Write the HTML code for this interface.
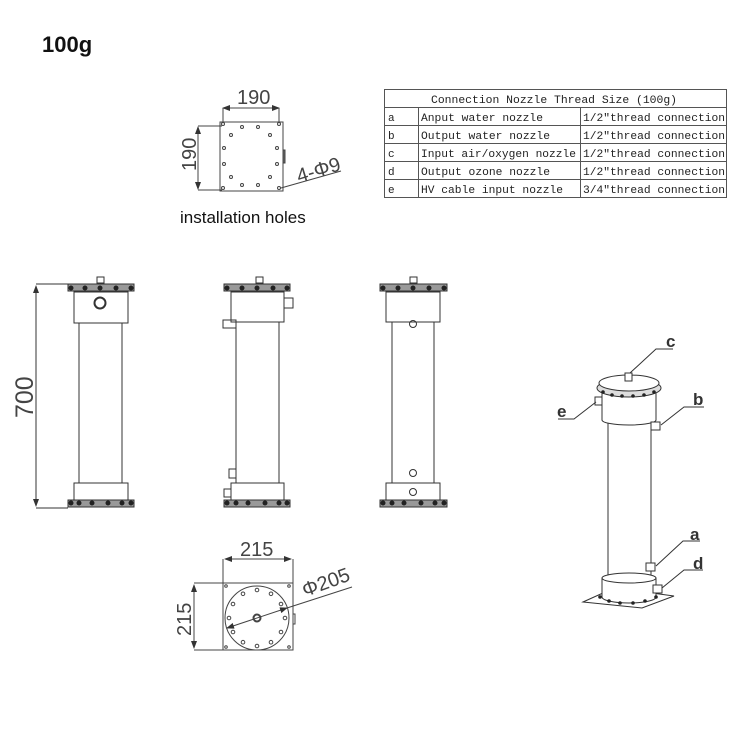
<!DOCTYPE html>
<html><head><meta charset="utf-8"><style>
html,body{margin:0;padding:0;background:#fff;width:750px;height:750px;overflow:hidden}
svg{display:block}
.t{font-family:"Liberation Mono",monospace;font-size:11px;fill:#222}
.d{font-family:"Liberation Sans",sans-serif;font-size:20px;fill:#444;font-weight:300}
</style></head><body>
<svg width="750" height="750" viewBox="0 0 750 750" xmlns="http://www.w3.org/2000/svg">
<defs>
<marker id="ar" markerWidth="8" markerHeight="6" refX="7" refY="3" orient="auto-start-reverse"><path d="M0,0 L8,3 L0,6z" fill="#333"/></marker>
</defs>
<text x="42" y="52" font-family="Liberation Sans,sans-serif" font-size="22" font-weight="bold" fill="#111">100g</text>

<!-- installation holes -->
<g stroke="#444" fill="none" stroke-width="1">
<rect x="220" y="122" width="63" height="69"/>
<rect x="283" y="150" width="2" height="13" fill="#666"/>
<line x1="223" y1="108" x2="279" y2="108" marker-start="url(#ar)" marker-end="url(#ar)"/>
<line x1="223" y1="108" x2="223" y2="122"/><line x1="279" y1="108" x2="279" y2="122"/>
<line x1="198" y1="127" x2="198" y2="189" marker-start="url(#ar)" marker-end="url(#ar)"/>
<line x1="198" y1="126" x2="222" y2="126"/><line x1="198" y1="190" x2="222" y2="190"/>
<line x1="281" y1="188" x2="341" y2="171"/>
<circle cx="223" cy="124" r="1.5"/><circle cx="279" cy="124" r="1.5"/><circle cx="223" cy="188" r="1.5"/><circle cx="279" cy="188" r="1.5"/>
<circle cx="242" cy="127" r="1.5"/><circle cx="258" cy="127" r="1.5"/><circle cx="242" cy="185" r="1.5"/><circle cx="258" cy="185" r="1.5"/>
<circle cx="231" cy="135" r="1.5"/><circle cx="270" cy="135" r="1.5"/><circle cx="231" cy="177" r="1.5"/><circle cx="270" cy="177" r="1.5"/>
<circle cx="224" cy="148" r="1.5"/><circle cx="277" cy="148" r="1.5"/><circle cx="224" cy="164" r="1.5"/><circle cx="277" cy="164" r="1.5"/>
</g>
<text class="d" x="237" y="104">190</text>
<text class="d" transform="translate(196,171) rotate(-90)">190</text>
<text class="d" transform="translate(299,183) rotate(-17)">4-Φ9</text>
<text x="180" y="223" font-family="Liberation Sans,sans-serif" font-size="17" fill="#111">installation holes</text>

<!-- table -->
<g stroke="#555" fill="none" stroke-width="1">
<rect x="384.5" y="89.5" width="342" height="108"/>
<line x1="384" y1="107.5" x2="727" y2="107.5"/>
<line x1="384" y1="125.5" x2="727" y2="125.5"/>
<line x1="384" y1="143.5" x2="727" y2="143.5"/>
<line x1="384" y1="161.5" x2="727" y2="161.5"/>
<line x1="384" y1="179.5" x2="727" y2="179.5"/>
<line x1="418.5" y1="107" x2="418.5" y2="198"/>
<line x1="580.5" y1="107" x2="580.5" y2="198"/>
</g>
<text class="t" x="431" y="103" textLength="246" lengthAdjust="spacingAndGlyphs">Connection Nozzle Thread Size (100g)</text>
<g>
<text class="t" x="388" y="121">a</text><text class="t" x="421" y="121" textLength="122" lengthAdjust="spacingAndGlyphs">Anput water nozzle</text><text class="t" x="583" y="121" textLength="142" lengthAdjust="spacingAndGlyphs">1/2″thread connection</text>
<text class="t" x="388" y="139">b</text><text class="t" x="421" y="139" textLength="129" lengthAdjust="spacingAndGlyphs">Output water nozzle</text><text class="t" x="583" y="139" textLength="142" lengthAdjust="spacingAndGlyphs">1/2″thread connection</text>
<text class="t" x="388" y="157">c</text><text class="t" x="421" y="157" textLength="155" lengthAdjust="spacingAndGlyphs">Input air/oxygen nozzle</text><text class="t" x="583" y="157" textLength="142" lengthAdjust="spacingAndGlyphs">1/2″thread connection</text>
<text class="t" x="388" y="175">d</text><text class="t" x="421" y="175" textLength="129" lengthAdjust="spacingAndGlyphs">Output ozone nozzle</text><text class="t" x="583" y="175" textLength="142" lengthAdjust="spacingAndGlyphs">1/2″thread connection</text>
<text class="t" x="388" y="193">e</text><text class="t" x="421" y="193" textLength="142" lengthAdjust="spacingAndGlyphs">HV cable input nozzle</text><text class="t" x="583" y="193" textLength="142" lengthAdjust="spacingAndGlyphs">3/4″thread connection</text>
</g>

<!-- front views -->
<g stroke="#333" fill="none" stroke-width="1">
<rect x="97" y="277" width="7" height="6"/>
<rect x="68" y="284" width="66" height="7" fill="#999"/>
<rect x="74" y="292" width="54" height="31"/>
<circle cx="100" cy="303" r="5.5" stroke-width="2"/>
<rect x="79" y="323" width="43" height="160"/>
<rect x="74" y="483" width="54" height="17"/>
<rect x="68" y="500" width="66" height="7" fill="#999"/>
<line x1="36" y1="286" x2="36" y2="506" marker-start="url(#ar)" marker-end="url(#ar)"/>
<line x1="36" y1="284" x2="68" y2="284"/><line x1="36" y1="508" x2="68" y2="508"/>
<rect x="256" y="277" width="7" height="6"/>
<rect x="224" y="284" width="66" height="7" fill="#999"/>
<rect x="231" y="292" width="53" height="30"/>
<rect x="284" y="298" width="9" height="10"/>
<rect x="223" y="320" width="13" height="8"/>
<rect x="236" y="322" width="43" height="161"/>
<rect x="229" y="469" width="7" height="9"/>
<rect x="231" y="483" width="53" height="17"/>
<rect x="224" y="489" width="7" height="8"/>
<rect x="224" y="500" width="66" height="7" fill="#999"/>
<rect x="410" y="277" width="7" height="6"/>
<rect x="380" y="284" width="67" height="7" fill="#999"/>
<rect x="386" y="292" width="54" height="30"/>
<rect x="392" y="322" width="42" height="161"/>
<circle cx="413" cy="324" r="3.5"/>
<circle cx="413" cy="473" r="3.5"/>
<rect x="386" y="483" width="54" height="17"/>
<circle cx="413" cy="492" r="3.5"/>
<rect x="380" y="500" width="67" height="7" fill="#999"/>
</g>
<g fill="#222">
<circle cx="71" cy="288" r="2.5"/><circle cx="85" cy="288" r="2.5"/><circle cx="100" cy="288" r="2.5"/><circle cx="116" cy="288" r="2.5"/><circle cx="131" cy="288" r="2.5"/>
<circle cx="71" cy="503" r="2.5"/><circle cx="79" cy="503" r="2.5"/><circle cx="92" cy="503" r="2.5"/><circle cx="108" cy="503" r="2.5"/><circle cx="122" cy="503" r="2.5"/><circle cx="131" cy="503" r="2.5"/>
<circle cx="227" cy="288" r="2.5"/><circle cx="242" cy="288" r="2.5"/><circle cx="257" cy="288" r="2.5"/><circle cx="273" cy="288" r="2.5"/><circle cx="287" cy="288" r="2.5"/>
<circle cx="227" cy="503" r="2.5"/><circle cx="236" cy="503" r="2.5"/><circle cx="248" cy="503" r="2.5"/><circle cx="265" cy="503" r="2.5"/><circle cx="279" cy="503" r="2.5"/><circle cx="287" cy="503" r="2.5"/>
<circle cx="383" cy="288" r="2.5"/><circle cx="398" cy="288" r="2.5"/><circle cx="413" cy="288" r="2.5"/><circle cx="429" cy="288" r="2.5"/><circle cx="444" cy="288" r="2.5"/>
<circle cx="383" cy="503" r="2.5"/><circle cx="392" cy="503" r="2.5"/><circle cx="404" cy="503" r="2.5"/><circle cx="421" cy="503" r="2.5"/><circle cx="435" cy="503" r="2.5"/><circle cx="444" cy="503" r="2.5"/>
</g>
<text class="d" transform="translate(33,418) rotate(-90)" style="font-size:25px">700</text>

<!-- bottom view -->
<g stroke="#444" fill="none" stroke-width="1">
<rect x="223" y="583" width="70" height="67"/>
<line x1="225" y1="559" x2="291" y2="559" marker-start="url(#ar)" marker-end="url(#ar)"/>
<line x1="223" y1="559" x2="223" y2="583"/><line x1="293" y1="559" x2="293" y2="583"/>
<line x1="194" y1="585" x2="194" y2="648" marker-start="url(#ar)" marker-end="url(#ar)"/>
<line x1="194" y1="583" x2="223" y2="583"/><line x1="194" y1="650" x2="223" y2="650"/>
<circle cx="257" cy="618" r="32"/>
<circle cx="257" cy="618" r="3.5" stroke-width="2"/>
<line x1="227" y1="628" x2="287" y2="608" marker-start="url(#ar)" marker-end="url(#ar)"/>
<line x1="287" y1="608" x2="352" y2="587"/>
<rect x="293" y="614" width="2" height="10"/>
<circle cx="226" cy="586" r="1.3"/><circle cx="289" cy="586" r="1.3"/><circle cx="226" cy="647" r="1.3"/><circle cx="289" cy="647" r="1.3"/>
<circle cx="257" cy="590" r="1.8"/><circle cx="271" cy="593.8" r="1.8"/><circle cx="281" cy="604" r="1.8"/><circle cx="285" cy="618" r="1.8"/><circle cx="281" cy="632" r="1.8"/><circle cx="271" cy="642.2" r="1.8"/>
<circle cx="257" cy="646" r="1.8"/><circle cx="243" cy="642.2" r="1.8"/><circle cx="233" cy="632" r="1.8"/><circle cx="229" cy="618" r="1.8"/><circle cx="233" cy="604" r="1.8"/><circle cx="243" cy="593.8" r="1.8"/>
</g>
<text class="d" x="240" y="556">215</text>
<text class="d" transform="translate(191,636) rotate(-90)">215</text>
<text class="d" transform="translate(305,597) rotate(-20)">Φ205</text>

<!-- 3D view -->
<g stroke="#333" fill="#fff" stroke-width="1">
<polygon points="583,602 642,608 674,596 614,588"/>
<path d="M602,578 L602,597 A27,6 0 0 0 656,597 L656,578"/>
<ellipse cx="629" cy="578" rx="27" ry="5"/>
<line x1="608" y1="423" x2="608" y2="575"/><line x1="651" y1="423" x2="651" y2="575"/>
<path d="M602,393 L602,420 A27,5 0 0 0 656,420 L656,393"/>
<ellipse cx="629" cy="388" rx="32" ry="9" fill="#ddd"/>
<ellipse cx="629" cy="383" rx="30" ry="8"/>
<rect x="625" y="373" width="7" height="8"/>
<rect x="651" y="422" width="9" height="8"/>
<rect x="646" y="563" width="9" height="8"/>
<rect x="653" y="585" width="9" height="8"/>
<rect x="595" y="397" width="7" height="8"/>
</g>
<g fill="#222">
<circle cx="603" cy="392" r="1.8"/><circle cx="612" cy="395" r="1.8"/><circle cx="622" cy="396" r="1.8"/><circle cx="633" cy="396" r="1.8"/><circle cx="644" cy="395" r="1.8"/><circle cx="654" cy="392" r="1.8"/>
<circle cx="600" cy="597" r="1.8"/><circle cx="609" cy="601" r="1.8"/><circle cx="620" cy="603" r="1.8"/><circle cx="633" cy="603" r="1.8"/><circle cx="645" cy="601" r="1.8"/><circle cx="656" cy="597" r="1.8"/>
</g>
<g stroke="#333" fill="none" stroke-width="1">
<polyline points="673,349 656,349 630,373"/>
<polyline points="704,407 684,407 661,425"/>
<polyline points="558,419 574,419 596,402"/>
<polyline points="700,541 683,541 656,566"/>
<polyline points="703,570 684,570 662,588"/>
</g>
<g font-family="Liberation Sans,sans-serif" font-size="17" font-weight="bold" fill="#333">
<text x="666" y="347">c</text><text x="693" y="405">b</text><text x="557" y="417">e</text><text x="690" y="540">a</text><text x="693" y="569">d</text>
</g>
</svg>
</body></html>
